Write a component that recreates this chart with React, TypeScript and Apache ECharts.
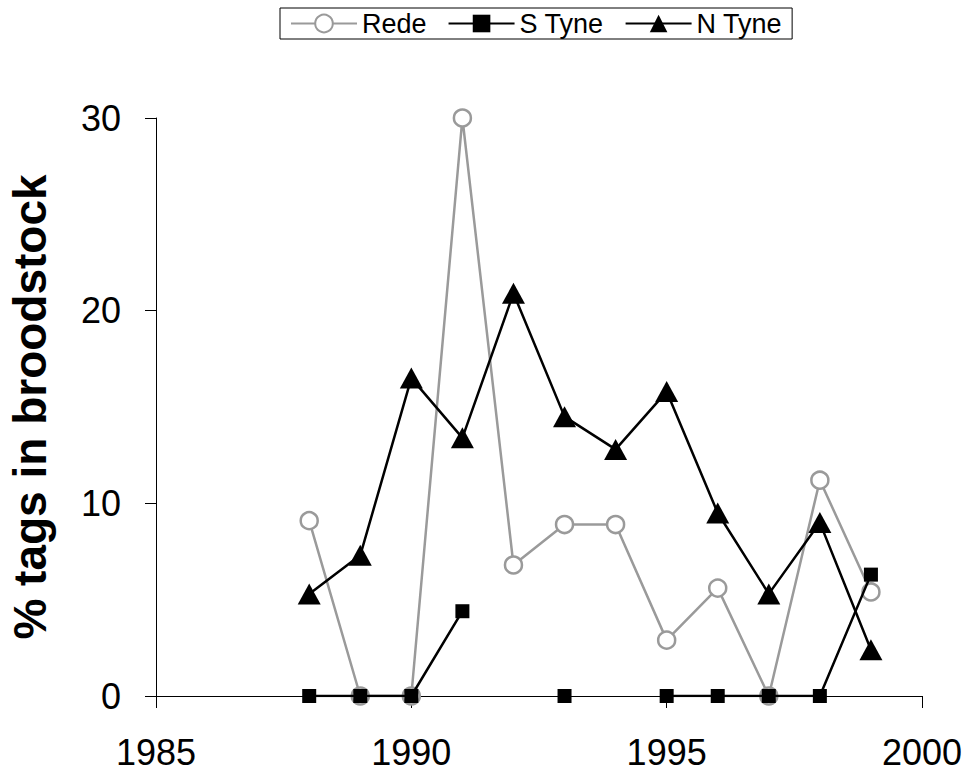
import React, { useEffect, useRef } from "react";
import * as echarts from "echarts";

const years = [1988, 1989, 1990, 1991, 1992, 1993, 1994, 1995, 1996, 1997, 1998, 1999];
const rede: (number | null)[] = [9.1, 0, 0, 30, 6.8, 8.9, 8.9, 2.9, 5.6, 0, 11.2, 5.4];
const sTyne: (number | null)[] = [0, 0, 0, 4.4, null, 0, null, 0, 0, 0, 0, 6.3];
const nTyne: (number | null)[] = [5.3, 7.3, 16.5, 13.4, 20.9, 14.5, 12.8, 15.8, 9.5, 5.3, 9.0, 2.4];
const seriesNames = ["Rede", "S Tyne", "N Tyne"];
const yTitle = "% tags in broodstock";

const FONT = "Liberation Sans, Arial, sans-serif";

const pairs = (vals: (number | null)[]) => years.map((y, i) => [y, vals[i]]);

export default function App() {
  const ref = useRef<HTMLDivElement>(null);
  useEffect(() => {
    if (!ref.current) return;
    const chart = echarts.init(ref.current, undefined, { renderer: "svg" });
    chart.setOption({
      animation: false,
      backgroundColor: "#fff",
      textStyle: { fontFamily: FONT },
      legend: {
        top: 8,
        left: 280,
        data: seriesNames,
        borderColor: "#000",
        borderWidth: 1,
        padding: [2, 10],
        itemGap: 21,
        itemWidth: 66,
        itemHeight: 22,
        textStyle: { fontSize: 27, color: "#000", fontFamily: FONT },
      },
      grid: { left: 156, right: 43, top: 118, bottom: 75, containLabel: false, outerBoundsMode: "none" },
      xAxis: {
        type: "value",
        min: 1985,
        max: 2000,
        interval: 5,
        axisLine: { lineStyle: { color: "#000", width: 1 } },
        axisTick: { show: true, inside: false, length: 12, lineStyle: { color: "#000" } },
        axisLabel: { fontSize: 36, color: "#000", fontFamily: FONT, margin: 38, formatter: (v: number) => String(v) },
        splitLine: { show: false },
      },
      yAxis: {
        type: "value",
        min: 0,
        max: 30,
        interval: 10,
        name: yTitle,
        nameLocation: "middle",
        nameRotate: 90,
        nameGap: 103,
        nameTextStyle: { fontSize: 46, fontWeight: "bold", color: "#000", fontFamily: FONT },
        axisLine: { show: true, lineStyle: { color: "#000", width: 1 } },
        axisTick: { show: true, inside: false, length: 11, lineStyle: { color: "#000" } },
        axisLabel: { fontSize: 36, color: "#000", fontFamily: FONT, margin: 35 },
        splitLine: { show: false },
      },
      series: [
        {
          name: seriesNames[0],
          type: "line",
          data: pairs(rede),
          symbol: "circle",
          symbolSize: 17,
          itemStyle: { color: "#fff", borderColor: "#9a9a9a", borderWidth: 2.5 },
          lineStyle: { color: "#9a9a9a", width: 2.5 },
          z: 2,
        },
        {
          name: seriesNames[1],
          type: "line",
          data: pairs(sTyne),
          connectNulls: false,
          symbol: "rect",
          symbolSize: 14,
          itemStyle: { color: "#000", borderRadius: 2 },
          lineStyle: { color: "#000", width: 2.5 },
          z: 3,
        },
        {
          name: seriesNames[2],
          type: "line",
          data: pairs(nTyne),
          symbol: "triangle",
          symbolSize: [23, 21],
          itemStyle: { color: "#000" },
          lineStyle: { color: "#000", width: 2.5 },
          z: 4,
        },
      ],
    });
    return () => chart.dispose();
  }, []);
  return <div ref={ref} style={{ position: "fixed", left: 0, top: 0, width: 965, height: 771 }} />;
}
